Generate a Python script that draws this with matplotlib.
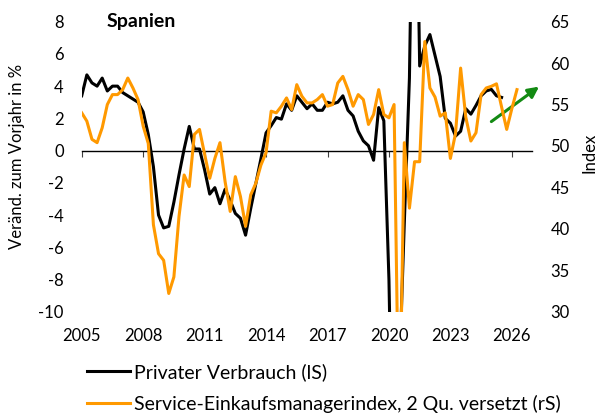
import numpy as np
import matplotlib
matplotlib.use('Agg')
import matplotlib.pyplot as plt

plt.rcParams['font.family'] = ['Lato', 'DejaVu Sans']
plt.rcParams['axes.unicode_minus'] = False
FS = 12
FS_LEG = 14
FS_TITLE = 14

# ---------------- data ----------------
start_year = 2005  # first quarter shown: 2005 Q1, quarterly steps

# Private consumption, % yoy (left scale)
consumption = [
    3.4, 4.7, 4.2, 4.0, 4.5, 3.7, 4.0, 4.0,          # 2005-2006
    3.6, 3.4, 3.2, 3.0, 2.4, 1.0, -1.0, -4.0,        # 2007-2008
    -4.8, -4.7, -3.2, -1.5, 0.1, 1.5, 0.1, 0.1,      # 2009-2010
    -1.2, -2.7, -2.3, -3.3, -2.4, -3.1, -3.9, -4.2,  # 2011-2012
    -5.25, -3.6, -2.05, -0.5, 1.1, 1.55, 2.05, 1.95, # 2013-2014
    2.9, 2.5, 3.4, 3.0, 2.6, 2.9, 2.5, 2.5,          # 2015-2016
    3.0, 2.9, 3.0, 3.4, 2.5, 2.15, 1.2, 0.6,         # 2017-2018
    0.3, -0.6, 2.67, 1.85, -8.0, -25.0, -14.0, -4.5, # 2019-2020
    4.5, 25.0, 5.25, 6.5, 7.2, 5.9, 4.6, 2.0,        # 2021-2022
    1.7, 0.9, 1.2, 2.6, 2.26, 2.8, 3.4, 3.7,         # 2023-2024
    3.8, 3.4, 3.3,                                    # 2025
]

# Services PMI, shifted forward by 2 quarters (right scale)
pmi = [
    54.0, 53.0, 50.8, 50.4, 52.2, 55.0, 56.2, 56.2,  # 2005-2006
    56.8, 58.2, 57.0, 55.6, 52.4, 50.3, 40.5, 37.0,  # 2007-2008
    36.2, 32.2, 34.2, 41.5, 46.5, 45.1, 51.4, 52.0,  # 2009-2010
    49.0, 46.1, 48.5, 50.4, 45.7, 42.1, 46.3, 43.9,  # 2011-2012
    40.3, 44.1, 45.5, 47.7, 49.2, 54.2, 54.0, 54.8,  # 2013-2014
    55.8, 54.4, 57.4, 56.0, 55.2, 55.2, 55.6, 56.2,  # 2015-2016
    54.8, 55.0, 57.6, 58.4, 56.8, 54.8, 56.2, 55.6,  # 2017-2018
    52.6, 53.8, 56.8, 53.8, 53.4, 55.0, 13.0, 50.4,  # 2019-2020
    42.5, 48.1, 48.1, 62.6, 57.0, 55.9, 53.6, 54.0,  # 2021-2022
    48.5, 51.5, 59.4, 53.5, 50.6, 51.6, 56.2, 57.0,  # 2023-2024
    57.2, 57.5, 54.7, 52.0, 54.5, 56.8,              # 2025-2026
]

x_ticks = [2005, 2008, 2011, 2014, 2017, 2020, 2023, 2026]
left_ticks = [-10, -8, -6, -4, -2, 0, 2, 4, 6, 8]
right_ticks = [30, 35, 40, 45, 50, 55, 60, 65]

title = 'Spanien'
left_label = 'Veränd. zum Vorjahr in %'
right_label = 'Index'
label_cons = 'Privater Verbrauch (lS)'
label_pmi = 'Service-Einkaufsmanagerindex, 2 Qu. versetzt (rS)'

# trend arrow (data coords on left scale)
arrow_start = (2025.0, 1.8)
arrow_end = (2027.33, 3.97)

ORANGE = '#FF9900'
GREEN = '#138A13'

# ---------------- plot ----------------
t_cons = start_year + 0.25 * np.arange(len(consumption))
t_pmi = start_year + 0.25 * np.arange(len(pmi))

fig = plt.figure(figsize=(6, 4.17), dpi=100)
ax = fig.add_axes([0.1362, 0.2525, 0.751, 0.6955])
ax2 = ax.twinx()

l1, = ax.plot(t_cons, consumption, color='black', lw=2.2,
              solid_joinstyle='round', label=label_cons)
l2, = ax2.plot(t_pmi, pmi, color=ORANGE, lw=2.2,
               solid_joinstyle='round', label=label_pmi)

ax.set_xlim(2005, 2027)
ax.set_ylim(-10, 8)
ax2.set_ylim(30, 65)
ax.set_yticks(left_ticks)
ax2.set_yticks(right_ticks)

for s in ['left', 'right', 'top']:
    ax.spines[s].set_visible(False)
for s in ['left', 'right', 'top', 'bottom']:
    ax2.spines[s].set_visible(False)
ax.spines['bottom'].set_position(('data', 0))
ax.spines['bottom'].set_linewidth(1.0)

ax.set_xticks(x_ticks)
ax.tick_params(axis='x', direction='out', length=4.5, width=0.8,
               color='#404040', labelbottom=False)
ax.tick_params(axis='y', length=0, pad=13, labelsize=FS)
ax2.tick_params(axis='y', length=0, pad=13, labelsize=FS)

sec = ax.secondary_xaxis('bottom')
sec.set_xticks(x_ticks)
sec.spines['bottom'].set_visible(False)
sec.tick_params(length=0, pad=12, labelsize=FS)

ax.annotate('', xy=arrow_end, xytext=arrow_start, xycoords='data',
            annotation_clip=False,
            arrowprops=dict(arrowstyle='-|>', color=GREEN, lw=2.2,
                            mutation_scale=16, shrinkA=0, shrinkB=0))

fig.text(107 / 600, 1 - 21 / 417, title, fontsize=FS_TITLE, fontweight='bold',
         ha='left', va='center')
fig.text(17.5 / 600, 1 - 156 / 417, left_label, fontsize=FS, rotation=90,
         ha='center', va='center')
fig.text(589 / 600, 1 - 153 / 417, right_label, fontsize=FS, rotation=90,
         ha='center', va='center')

fig.legend(handles=[l1, l2], loc='upper left',
           bbox_to_anchor=(87 / 600, 1 - 363 / 417), frameon=False,
           fontsize=FS_LEG, handlelength=2.2, handletextpad=0.2,
           labelspacing=0.72, borderpad=0, borderaxespad=0)

fig.savefig('out.png', dpi=100)
